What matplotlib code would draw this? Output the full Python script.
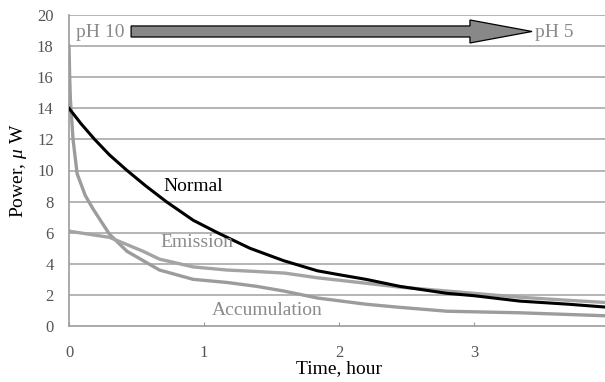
import matplotlib
matplotlib.use("Agg")
import matplotlib.pyplot as plt
from matplotlib.patches import FancyArrow

plt.rcParams.update(
    {
        "font.family": ["Liberation Serif", "DejaVu Serif"],
        "mathtext.fontset": "custom",
        "mathtext.it": "Liberation Serif:italic",
        "mathtext.rm": "Liberation Serif",
    }
)

# Normal (black)
normal_t = [0, 0.09, 0.19, 0.3, 0.43, 0.57, 0.72, 0.92, 1.1, 1.34, 1.59, 1.84, 2.0, 2.2, 2.45, 2.8, 3.0, 3.34, 3.7, 4.0]
normal_p = [14, 13.0, 12.0, 11.0, 10.0, 9.0, 8.0, 6.8, 6.0, 5.0, 4.2, 3.55, 3.3, 3.0, 2.55, 2.1, 1.95, 1.6, 1.4, 1.2]

# Emission (gray)
emission_t = [0, 0.3, 0.55, 0.67, 0.92, 1.17, 1.4, 1.6, 1.84, 2.2, 2.45, 2.8, 3.0, 3.34, 3.7, 4.0]
emission_p = [6.1, 5.7, 4.8, 4.3, 3.8, 3.6, 3.5, 3.4, 3.1, 2.75, 2.5, 2.25, 2.1, 1.85, 1.65, 1.5]

# Accumulation (gray)
accum_t = [0, 0.005, 0.01, 0.03, 0.06, 0.12, 0.18, 0.3, 0.43, 0.67, 0.92, 1.17, 1.39, 1.59, 1.84, 2.2, 2.45, 2.8, 3.34, 4.0]
accum_p = [18, 16, 14.6, 12.0, 9.8, 8.4, 7.5, 5.9, 4.8, 3.6, 3.0, 2.8, 2.55, 2.25, 1.8, 1.4, 1.2, 0.95, 0.85, 0.65]

x_ticks = [0, 1, 2, 3, 4]
y_ticks = [0, 2, 4, 6, 8, 10, 12, 14, 16, 18, 20]

GRAY = "#9c9c9c"
GRID = "#a8a8a8"

fig = plt.figure(figsize=(6.05, 3.82), dpi=100)
ax = fig.add_axes([69 / 605, 56 / 382, 540 / 605, 311 / 382])

for y in y_ticks[1:]:
    ax.axhline(y, color=GRID, linewidth=1.2, zorder=0)

ax.plot(accum_t, accum_p, color=GRAY, linewidth=2.4, zorder=2)
ax.plot(emission_t, emission_p, color="#a4a4a4", linewidth=2.4, zorder=2)
ax.plot(normal_t, normal_p, color="black", linewidth=2.2, zorder=3)

ax.text(0.92, 9.0, "Normal", fontsize=14, color="black", ha="center", va="center")
ax.text(0.95, 5.4, "Emission", fontsize=14, color="#8a8a8a", ha="center", va="center")
ax.text(1.47, 1.0, "Accumulation", fontsize=14, color="#8a8a8a", ha="center", va="center")

ax.text(0.05, 18.9, "pH 10", fontsize=14, color="#8a8a8a", ha="left", va="center")
ax.text(3.45, 18.9, "pH 5", fontsize=14, color="#8a8a8a", ha="left", va="center")
ax.add_patch(
    FancyArrow(0.46, 18.94, 2.97, 0, width=0.71, head_width=1.48, head_length=0.46,
               length_includes_head=True, facecolor="#888888", edgecolor="black",
               linewidth=0.9, zorder=4)
)

ax.set_xlim(0, 4)
ax.set_ylim(0, 20)
ax.set_xticks(x_ticks)
ax.set_yticks(y_ticks)
ax.tick_params(axis="y", length=0, pad=11, labelsize=12, labelcolor="#555555")
ax.tick_params(axis="x", direction="in", length=3, color=GRAY, pad=14, labelsize=12, labelcolor="#555555")
for side in ["top", "right"]:
    ax.spines[side].set_visible(False)
for side in ["left", "bottom"]:
    ax.spines[side].set_color(GRAY)
    ax.spines[side].set_linewidth(1.2)

ax.set_xlabel("Time, hour", fontsize=14, labelpad=-1)
ax.set_ylabel(r"Power, $\mathit{\mu}$ W", fontsize=14, labelpad=6)

fig.savefig("out.png", dpi=100)
